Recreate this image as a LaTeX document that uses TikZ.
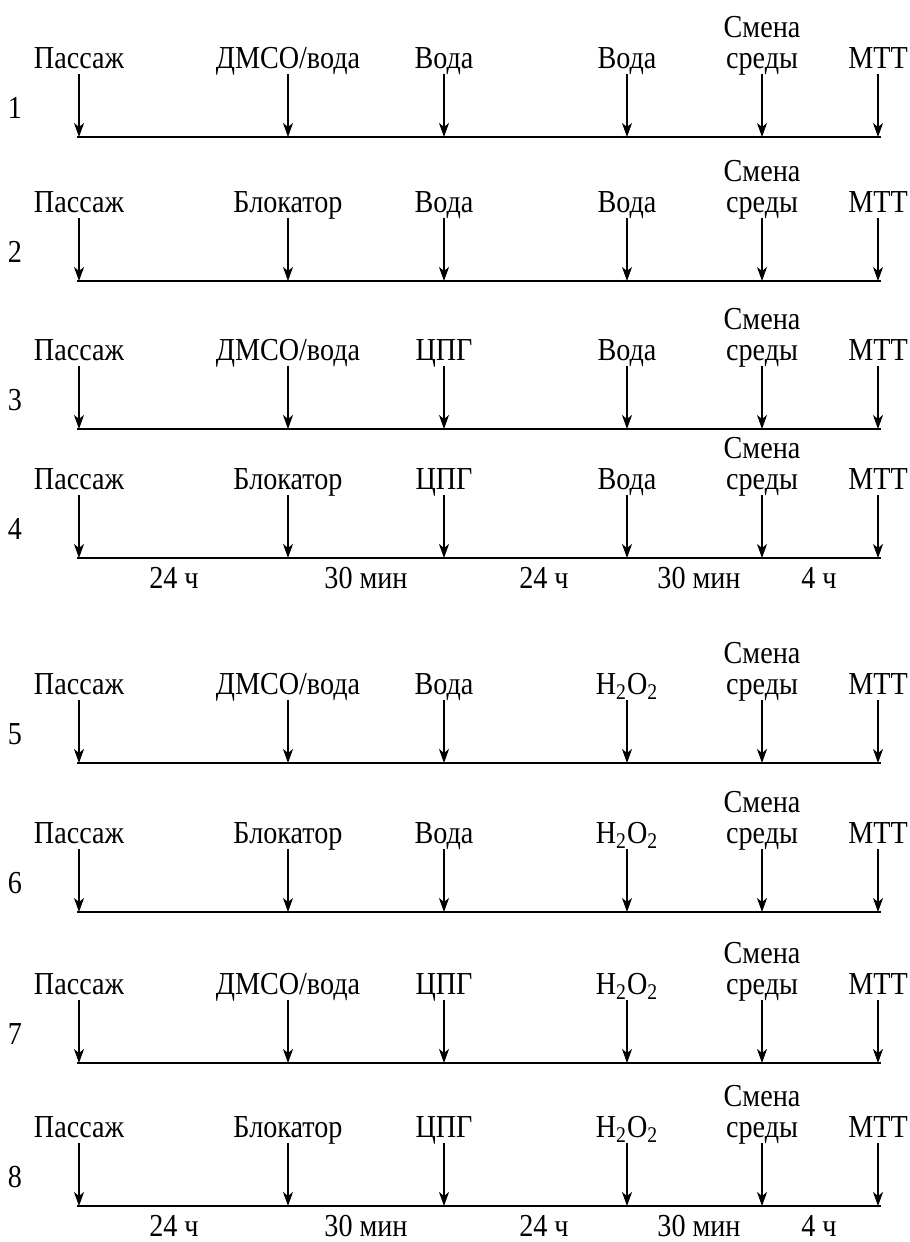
\documentclass[tikz,border=0pt]{standalone}
\usepackage{fontspec}
\setmainfont[FakeStretch=0.88]{Liberation Serif}
\usetikzlibrary{positioning}
\usetikzlibrary{arrows.meta}
\tikzset{lbl/.style={anchor=base,inner sep=0pt,font=\fontsize{16}{17}\selectfont}}
\tikzset{evt/.style={-{Stealth[length=7pt,width=5pt,inset=2pt]},line width=0.55pt}}
\tikzset{axis/.style={line width=1pt}}

\begin{document}
\begin{tikzpicture}[x=0.5pt,y=-0.5pt]
\useasboundingbox (0,0) rectangle (910,1242);
\foreach \r/\y/\b/\c/\d in {1/137/{ДМСО/вода}/Вода/Вода,
  2/281/Блокатор/Вода/Вода,
  3/429/{ДМСО/вода}/ЦПГ/Вода,
  4/558/Блокатор/ЦПГ/Вода,
  5/763/{ДМСО/вода}/Вода/{H\textsubscript{2}O\textsubscript{2}},
  6/912/Блокатор/Вода/{H\textsubscript{2}O\textsubscript{2}},
  7/1063/{ДМСО/вода}/ЦПГ/{H\textsubscript{2}O\textsubscript{2}},
  8/1206/Блокатор/ЦПГ/{H\textsubscript{2}O\textsubscript{2}}}{
  % time axis
  \coordinate (l\r) at (77,\y);
  \coordinate (r\r) at (881,\y);
  \draw[axis] (l\r) -- (r\r);
  \node[lbl] (num\r) at (15,\y-19) {\r};
  % events
  \node[lbl] (pas\r) at (79,\y-69) {Пассаж};
  \node[lbl] (sec\r) at (288,\y-69) {\b};
  \node[lbl] (thi\r) at (444,\y-69) {\c};
  \node[lbl] (fou\r) at (627,\y-69) {\d};
  \node[lbl,align=center] (sme\r) at (762,\y-69) {Смена\\[-1.5pt]среды};
  \node[lbl] (mtt\r) at (878,\y-69) {МТТ};
  \foreach \k/\x in {pas/79,sec/288,thi/444,fou/627,sme/762,mtt/878}{
    \coordinate (t\k\r) at (\x,\y);
    \draw[evt] ([yshift=-3pt]\k\r.base) -- (t\k\r);
  }
}
% durations
\foreach \y in {558,1206}{
  \foreach \x/\t [count=\i] in {174/24 ч,366/30 мин,544/24 ч,699/30 мин,819/4 ч}{
    \node[lbl] (dur\y\i) at (\x,\y+30) {\t};
  }
}
\end{tikzpicture}
\end{document}
